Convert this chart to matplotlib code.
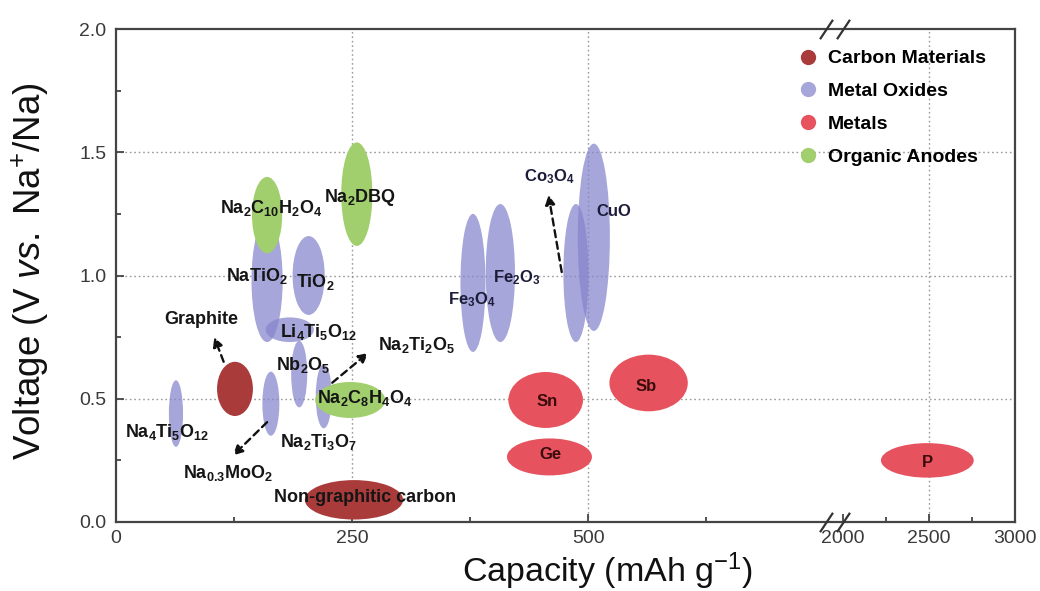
import re
import numpy as np
import matplotlib
matplotlib.use("Agg")
import matplotlib.pyplot as plt
from matplotlib.patches import Ellipse
from matplotlib.lines import Line2D

plt.rcParams["font.family"] = ["Liberation Sans", "DejaVu Sans"]
plt.rcParams["mathtext.fontset"] = "custom"
plt.rcParams["mathtext.rm"] = "Liberation Sans"
plt.rcParams["mathtext.it"] = "Liberation Sans:italic"
plt.rcParams["mathtext.bf"] = "Liberation Sans:bold"

# ---------------- data ----------------
categories = ["Carbon Materials", "Metal Oxides", "Metals", "Organic Anodes"]
category_colors = ["#AA3B3B", "#8484CC", "#E6535F", "#A2CF6E"]
category_alpha = [1.0, 0.72, 1.0, 1.0]
category_zorder = [3, 2, 3, 3]

materials = ["NaTiO2", "TiO2", "Li4Ti5O12", "Nb2O5", "Na2Ti3O7", "Na0.3MoO2",
             "Na4Ti5O12", "Fe3O4", "Fe2O3", "Co3O4", "CuO",
             "Na2C10H2O4", "Na2DBQ", "Na2C8H4O4",
             "Graphite", "Non-graphitic carbon",
             "Sn", "Ge", "Sb", "P"]
material_category = [1, 1, 1, 1, 1, 1,
                     1, 1, 1, 1, 1,
                     3, 3, 3,
                     0, 0,
                     2, 2, 2, 2]
# centre capacity (mAh g-1) and voltage (V) of each region
capacity = [160, 204, 184, 194, 220, 164,
            63.5, 378, 407, 487, 506,
            160, 255, 248,
            126, 252,
            455, 459, 564, 2490]
voltage = [0.98, 1.00, 0.78, 0.60, 0.51, 0.48,
           0.44, 0.97, 1.01, 1.01, 1.155,
           1.245, 1.33, 0.495,
           0.54, 0.09,
           0.495, 0.264, 0.564, 0.25]
# full extent of each region along capacity and voltage
capacity_span = [33, 34, 51, 17, 17, 18,
                 15, 26.5, 31, 26.5, 34,
                 32, 33, 74,
                 38, 104,
                 79, 90, 83, 540]
voltage_span = [0.50, 0.32, 0.10, 0.27, 0.26, 0.26,
                0.27, 0.56, 0.56, 0.56, 0.76,
                0.31, 0.42, 0.146,
                0.22, 0.16,
                0.227, 0.15, 0.23, 0.14]

# text labels: text, capacity, voltage, font size
label_text = ["Na2C10H2O4", "Na2DBQ", "NaTiO2", "TiO2", "Graphite", "Li4Ti5O12",
              "Na2Ti2O5", "Nb2O5", "Na2C8H4O4", "Na4Ti5O12", "Na2Ti3O7",
              "Na0.3MoO2", "Non-graphitic carbon", "Fe3O4", "Fe2O3", "Co3O4",
              "CuO", "Sn", "Ge", "Sb", "P"]
label_cap = [164, 258, 149, 211, 90, 214,
             318, 198, 263, 54, 214,
             119, 264, 377, 424, 459,
             527, 457, 460, 561, 2490]
label_volt = [1.274, 1.318, 1.0, 0.974, 0.82, 0.77,
              0.718, 0.637, 0.503, 0.365, 0.325,
              0.20, 0.10, 0.90, 0.99, 1.40,
              1.258, 0.487, 0.272, 0.548, 0.243]
label_size = [13, 13, 13, 13, 13, 13,
              13, 13, 13, 13, 13,
              13, 13, 12, 12, 12,
              12, 12, 12, 12, 12]
label_color = ["#151515"] * 13 + ["#1c1c3a"] * 4 + ["#3a0c0c"] * 4

# dashed pointer arrows: (tail capacity, tail voltage, head capacity, head voltage)
arrow_tail_cap = [114, 160, 229, 472]
arrow_tail_volt = [0.65, 0.405, 0.565, 1.014]
arrow_head_cap = [104, 124, 267, 458]
arrow_head_volt = [0.75, 0.27, 0.686, 1.327]

x_major = [0, 250, 500, 2000, 2500, 3000]
x_minor = [125, 375, 625, 2250, 2750]
y_major = [0.0, 0.5, 1.0, 1.5, 2.0]
y_minor = [0.25, 0.75, 1.25, 1.75]
x_grid = [250, 500, 2500]
y_grid = [0.5, 1.0, 1.5]

# ---------------- broken capacity axis ----------------
cap_knots = [-1000, 0, 755, 2000, 3000, 4000]
pos_knots = [-1000, 0, 755, 770, 952, 1134]


def fwd(x):
    return np.interp(x, cap_knots, pos_knots)


def inv(p):
    return np.interp(p, pos_knots, cap_knots)


def chem(s):
    return re.sub(r"(\d+(?:\.\d+)?)", r"$_{\\mathbf{\1}}$", s)


fig = plt.figure(figsize=(10.4, 5.91), dpi=100)
ax = fig.add_axes([116 / 1040, 1 - 522 / 591, (1015 - 116) / 1040, (522 - 29) / 591])
ax.set_xscale("function", functions=(fwd, inv))

for gx in x_grid:
    ax.axvline(gx, color="#9a9a9a", lw=1.0, ls=(0, (1.2, 2)), zorder=0)
for gy in y_grid:
    ax.axhline(gy, color="#9a9a9a", lw=1.0, ls=(0, (1.2, 2)), zorder=0)

for name, cat, cx, cy, w, h in zip(materials, material_category, capacity,
                                   voltage, capacity_span, voltage_span):
    ax.add_patch(Ellipse((cx, cy), w, h, facecolor=category_colors[cat],
                         edgecolor="none", alpha=category_alpha[cat],
                         zorder=category_zorder[cat]))

for t, lx, ly, fs, c in zip(label_text, label_cap, label_volt, label_size, label_color):
    ax.text(lx, ly, chem(t), fontsize=fs, fontweight="bold", color=c,
            ha="center", va="center", zorder=6)

for tx, ty, hx, hy in zip(arrow_tail_cap, arrow_tail_volt, arrow_head_cap, arrow_head_volt):
    ax.annotate("", xy=(hx, hy), xytext=(tx, ty), zorder=6,
                arrowprops=dict(arrowstyle="-|>,head_length=0.55,head_width=0.28",
                                lw=1.7, ls=(0, (3, 2)), color="#111111",
                                shrinkA=0, shrinkB=0))

ax.set_xlim(0, 3000)
ax.set_ylim(0, 2.0)
ax.set_xticks(x_major)
ax.set_xticks(x_minor, minor=True)
ax.set_xticklabels([str(v) for v in x_major])
ax.set_yticks(y_major)
ax.set_yticks(y_minor, minor=True)
ax.set_yticklabels([f"{v:.1f}" for v in y_major])
ax.tick_params(which="both", direction="in", colors="#444444", labelcolor="#3a3a3a",
               labelsize=14, width=1.3)
ax.tick_params(which="major", length=6, pad=7)
ax.tick_params(axis="x", which="major", pad=6)
ax.tick_params(which="minor", length=3.5)
for sp in ax.spines.values():
    sp.set_color("#444444")
    sp.set_linewidth(1.6)

# axis break marks
slash = [(-0.4, -0.6), (0.4, 0.6)]
trans = ax.get_xaxis_transform()
for yb in (0, 1):
    ax.plot([752, 2000], [yb, yb], transform=trans, ls="none", marker=slash,
            ms=14, mew=1.6, mec="#333333", clip_on=False, zorder=7)

ax.set_xlabel("Capacity (mAh g$^{-1}$)", fontsize=24.5, color="#111111")
ax.xaxis.set_label_coords(0.547, -0.058)
ax.set_ylabel("Voltage (V $\\mathit{vs.}$ Na$^{+}$/Na)", fontsize=26.5, color="#111111")
ax.yaxis.set_label_coords(-0.072, 0.509)

handles = [Line2D([], [], ls="none", marker="o", ms=11, mfc=c, mec="none", alpha=a)
           for c, a in zip(category_colors, category_alpha)]
ax.legend(handles, categories, loc="upper left", bbox_to_anchor=(0.759, 0.958),
          frameon=False, prop=dict(weight="bold", size=14), handlelength=1.0,
          handletextpad=0.5, labelspacing=0.78, borderaxespad=0, borderpad=0)

fig.savefig("out.png", dpi=100)
